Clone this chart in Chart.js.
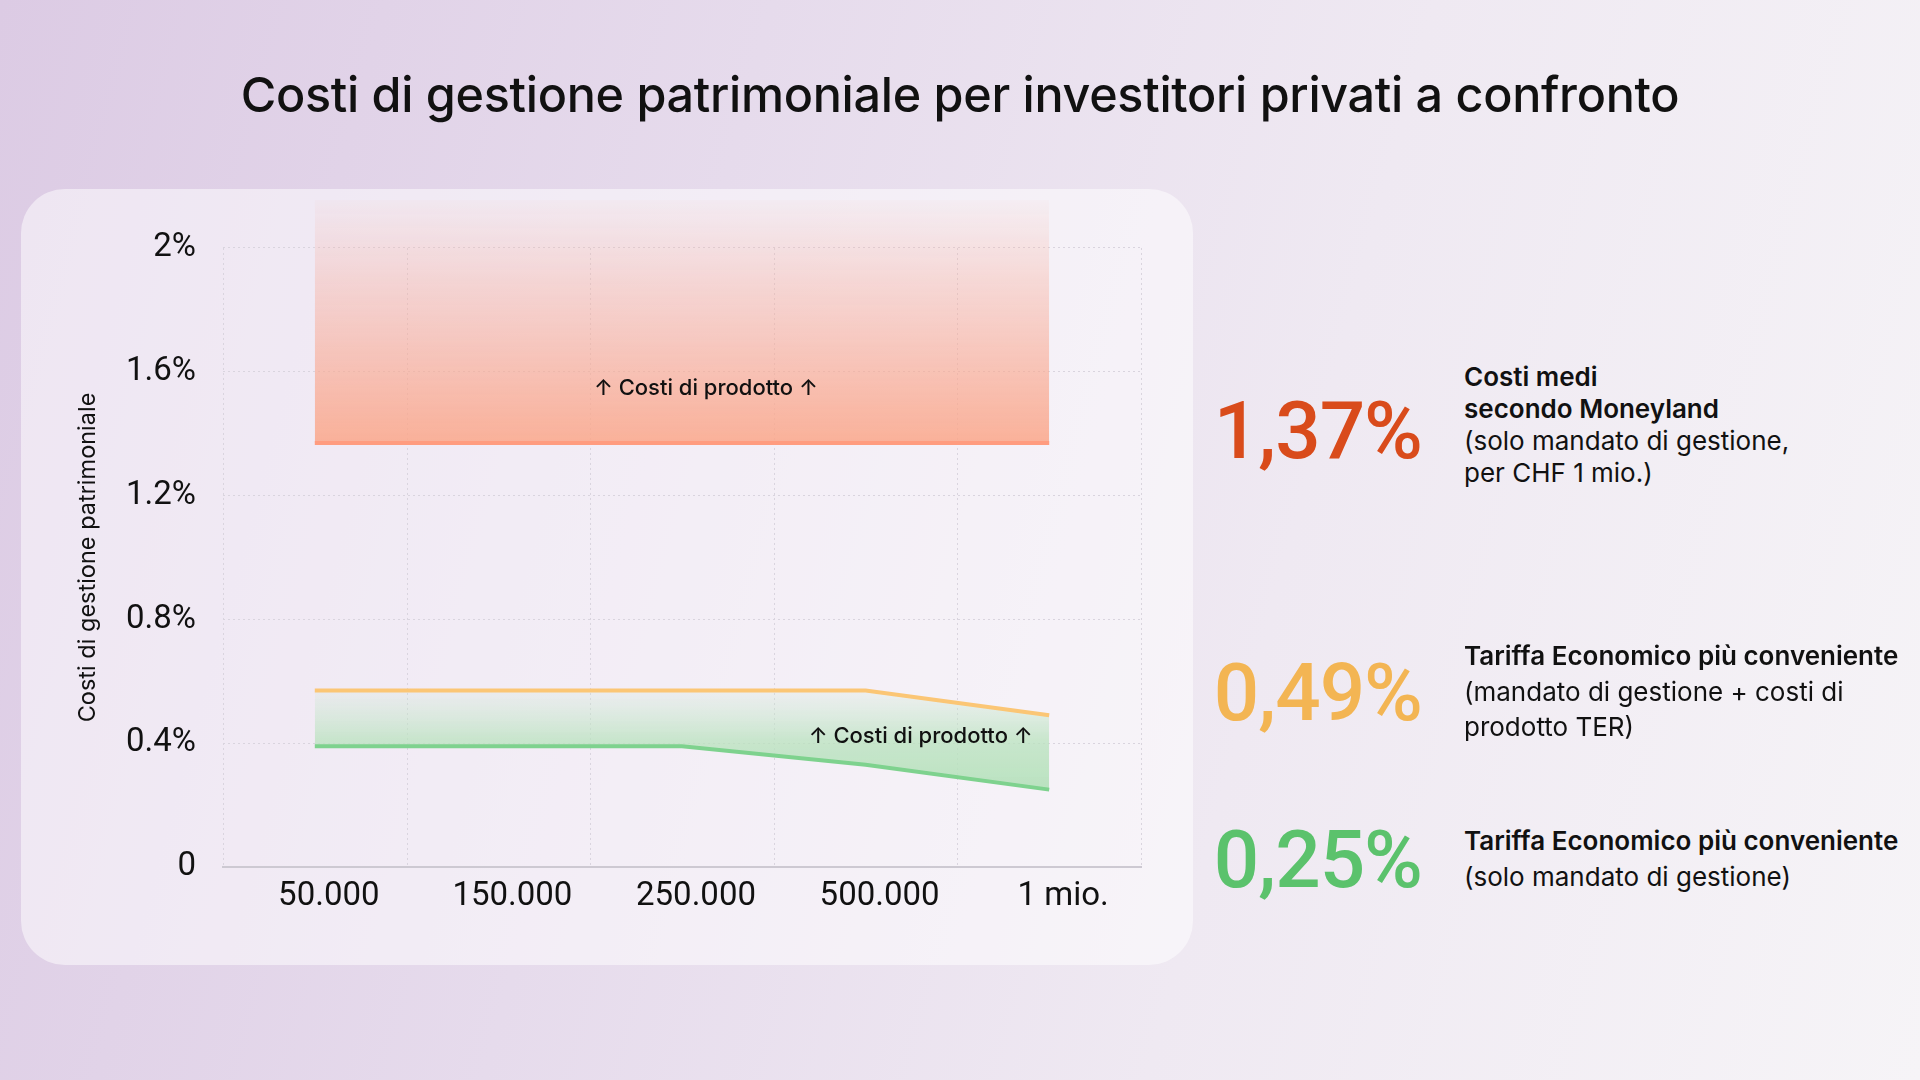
<!DOCTYPE html>
<html lang="it">
<head>
<meta charset="utf-8">
<title>Costi di gestione patrimoniale</title>
<script src="https://cdn.jsdelivr.net/npm/chart.js@4.4.1/dist/chart.umd.min.js"></script>
<style>
    html, body {
        margin: 0;
        padding: 0;
    }
    body {
        width: 1920px;
        height: 1080px;
        position: relative;
        overflow: hidden;
        font-family: Inter, 'Noto Sans', sans-serif;
        color: #111;
        background: linear-gradient(105deg, #dccbe4 0%, #e6dbec 35%, #efe9f2 65%, #f6f4f7 100%);
    }
    .title {
        position: absolute;
        left: 0;
        top: 70px;
        width: 1920px;
        text-align: center;
        font-size: 48.5px;
        font-weight: 500;
        line-height: 50px;
        letter-spacing: -0.3px;
    }
    .card {
        position: absolute;
        left: 21px;
        top: 189px;
        width: 1172px;
        height: 776px;
        border-radius: 44px;
        background: rgba(255, 255, 255, 0.5);
    }
    .chart-box {
        position: absolute;
        left: 21px;
        top: 189px;
        width: 1172px;
        height: 776px;
    }
    .big {
        position: absolute;
        width: 260px;
        left: 1162px;
        text-align: right;
        font-family: Roboto, sans-serif;
        font-size: 80px;
        line-height: 80px;
        font-weight: 500;
        letter-spacing: -1px;
    }
    .note {
        position: absolute;
        left: 1464px;
        font-size: 26px;
        white-space: nowrap;
    }
    .note b {
        font-weight: 600;
    }
</style>
</head>
<body>

<div class="title">Costi di gestione patrimoniale per investitori privati a confronto</div>

<div class="card"></div>
<div class="chart-box">
    <canvas id="costChart" width="1172" height="776"></canvas>
</div>

<div class="big" style="top:391px;color:#d94b1b;">1,37%</div>
<div class="note" style="top:361px;line-height:32px;">
    <b>Costi medi</b><br>
    <b>secondo Moneyland</b><br>
    (solo mandato di gestione,<br>
    per CHF 1 mio.)
</div>

<div class="big" style="top:653px;color:#f3b553;">0,49%</div>
<div class="note" style="top:638px;line-height:35.5px;">
    <b>Tariffa Economico più conveniente</b><br>
    (mandato di gestione + costi di<br>
    prodotto TER)
</div>

<div class="big" style="top:820px;color:#5bc26c;">0,25%</div>
<div class="note" style="top:823px;line-height:35.5px;">
    <b>Tariffa Economico più conveniente</b><br>
    (solo mandato di gestione)
</div>

<script>
/* ── DATI ── */
const categories = ['50.000', '150.000', '250.000', '500.000', '1 mio.'];

const avgMoneyland = [1.37, 1.37, 1.37, 1.37, 1.37];
const economicoTer = [0.57, 0.57, 0.57, 0.57, 0.49];
const economicoMandate = [0.39, 0.39, 0.39, 0.33, 0.25];

const yTicks = [0, 0.4, 0.8, 1.2, 1.6, 2];
const yTickLabels = ['0', '0.4%', '0.8%', '1.2%', '1.6%', '2%'];

const yAxisTitle = 'Costi di gestione patrimoniale';
const productNote = '↑ Costi di prodotto ↑';

/* ── GRADIENTI ── */
function redFill(context) {
    const chart = context.chart;
    const area = chart.chartArea;
    if (!area) return 'rgba(250,160,135,0.6)';
    const y = chart.scales.y;
    const bottom = y.getPixelForValue(avgMoneyland[0]);
    const g = chart.ctx.createLinearGradient(0, area.top, 0, bottom);
    g.addColorStop(0, 'rgba(250,170,150,0.04)');
    g.addColorStop(0.35, 'rgba(249,168,148,0.35)');
    g.addColorStop(1, 'rgba(250,168,140,0.88)');
    return g;
}

function greenFill(context) {
    const chart = context.chart;
    const area = chart.chartArea;
    if (!area) return 'rgba(190,228,195,0.6)';
    const y = chart.scales.y;
    const top = y.getPixelForValue(economicoTer[0]);
    const bottom = y.getPixelForValue(economicoMandate[economicoMandate.length - 1]);
    const g = chart.ctx.createLinearGradient(0, top, 0, bottom);
    g.addColorStop(0, 'rgba(200,232,205,0.15)');
    g.addColorStop(0.5, 'rgba(185,226,190,0.75)');
    g.addColorStop(1, 'rgba(182,225,188,0.95)');
    return g;
}

/* ── PLUGIN: griglia verticale, titolo asse, note ── */
const decorations = {
    id: 'decorations',
    beforeDatasetsDraw(chart) {
        const {ctx, scales: {x, y}} = chart;
        const top = y.getPixelForValue(yTicks[yTicks.length - 1]);
        const bottom = y.getPixelForValue(0);
        ctx.save();
        ctx.strokeStyle = '#d9d4de';
        ctx.lineWidth = 1;
        ctx.setLineDash([2, 3]);
        for (let i = 0; i <= categories.length; i++) {
            const px = Math.round(x.getPixelForValue(i - 0.5)) + 0.5;
            ctx.beginPath();
            ctx.moveTo(px, top);
            ctx.lineTo(px, bottom);
            ctx.stroke();
        }
        ctx.restore();
    },
    afterDatasetsDraw(chart) {
        const {ctx, scales: {x, y}} = chart;
        ctx.save();

        // titolo asse y
        ctx.translate(67, (y.getPixelForValue(0) + y.getPixelForValue(2)) / 2);
        ctx.rotate(-Math.PI / 2);
        ctx.font = '400 23.5px Inter, "Noto Sans", sans-serif';
        ctx.fillStyle = '#111';
        ctx.textAlign = 'center';
        ctx.textBaseline = 'middle';
        ctx.fillText(yAxisTitle, 0, 0);
        ctx.restore();

        // note "costi di prodotto"
        ctx.save();
        ctx.font = '500 22px Inter, "DejaVu Sans", sans-serif';
        ctx.fillStyle = '#111';
        ctx.textAlign = 'center';
        ctx.textBaseline = 'middle';
        const step = x.getPixelForValue(1) - x.getPixelForValue(0);
        ctx.fillText(productNote, x.getPixelForValue(2) + step * 0.13, y.getPixelForValue(1.547));
        ctx.fillText(productNote, x.getPixelForValue(3) + step * 0.30, y.getPixelForValue(0.421));
        ctx.restore();
    }
};

/* ── GRAFICO ── */
const ctx = document.getElementById('costChart');

const costChart = new Chart(ctx, {
    type: 'line',
    data: {
        labels: categories,
        datasets: [{
            label: 'Costi medi secondo Moneyland',
            data: avgMoneyland,
            borderColor: '#ff9c7f',
            backgroundColor: redFill,
            borderWidth: 4,
            fill: 'end',
            pointRadius: 0,
            tension: 0
        }, {
            label: 'Economico + TER',
            data: economicoTer,
            borderColor: '#fbc675',
            borderWidth: 4,
            fill: false,
            pointRadius: 0,
            tension: 0
        }, {
            label: 'Economico mandato',
            data: economicoMandate,
            borderColor: '#7ed28e',
            backgroundColor: greenFill,
            borderWidth: 4,
            fill: '-1',
            pointRadius: 0,
            tension: 0
        }]
    },
    options: {
        responsive: false,
        animation: false,
        devicePixelRatio: 1,
        layout: {
            padding: {top: 11, right: 52, left: 0, bottom: 0}
        },
        plugins: {
            legend: {display: false},
            tooltip: {enabled: false}
        },
        scales: {
            x: {
                offset: true,
                grid: {display: false},
                border: {display: true, color: '#cdc9d2', width: 2},
                ticks: {
                    color: '#111',
                    padding: 2,
                    labelOffset: 14,
                    font: {family: 'Roboto', size: 33, weight: '400'}
                },
                afterFit(scale) {
                    scale.height = 98;
                    scale.paddingLeft = 0;
                    scale.paddingRight = 0;
                }
            },
            y: {
                min: 0,
                max: 2.155,
                afterBuildTicks(scale) {
                    scale.ticks = yTicks.map(v => ({value: v}));
                },
                afterFit(scale) {
                    scale.width = 202;
                    scale.paddingTop = 0;
                    scale.paddingBottom = 0;
                },
                grid: {
                    color: '#d9d4de',
                    lineWidth: 1,
                    drawTicks: false
                },
                border: {display: false, dash: [2, 3]},
                ticks: {
                    color: '#111',
                    padding: 27,
                    font: {family: 'Roboto', size: 33, weight: '400'},
                    callback: (value, i) => yTickLabels[i]
                }
            }
        }
    },
    plugins: [decorations]
});
</script>
</body>
</html>
